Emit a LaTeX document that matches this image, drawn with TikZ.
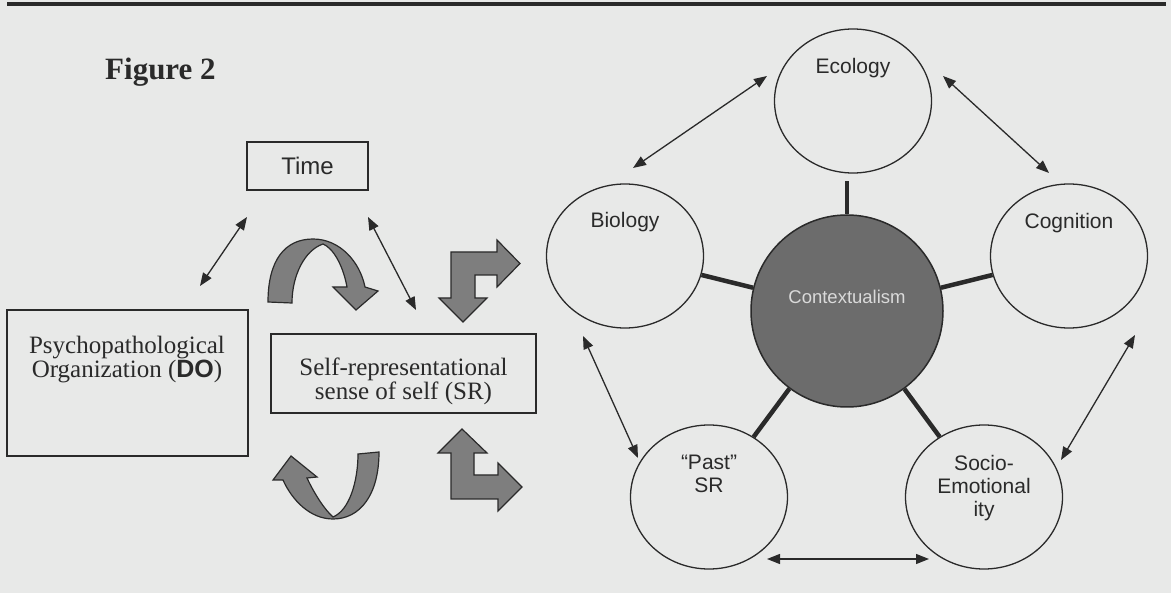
\documentclass[tikz,border=0pt]{standalone}
\usepackage{fontspec}
\setmainfont{Liberation Serif}
\setsansfont{Liberation Sans}
\usetikzlibrary{arrows.meta,shapes.geometric}
\definecolor{bgc}{HTML}{E8E9E8}
\definecolor{ink}{HTML}{2A2A2A}
\definecolor{blk}{HTML}{7E7E7E}
\definecolor{ctxc}{HTML}{6C6C6C}
\definecolor{ctxtc}{HTML}{DADADA}
\begin{document}
\begin{tikzpicture}[x=1pt,y=-1pt,
  box/.style={draw=ink,line width=1.2pt,rectangle,inner sep=0pt},
  circ/.style={draw=ink,line width=1.3pt,ellipse,minimum width=157pt,minimum height=144pt,inner sep=0pt},
  lbl/.style={font=\fontsize{21}{23}\selectfont\sffamily,text=ink,align=center,inner sep=0pt},
  serif/.style={font=\fontsize{25}{22}\selectfont,text=ink,align=center,inner sep=0pt},
  spoke/.style={draw=ink,line width=4.5pt},
  dbl/.style={draw=ink,line width=1.3pt,arrows={Triangle[length=13pt,width=10pt]-Triangle[length=13pt,width=10pt]}},
  blockarrow/.style={fill=blk,draw=ink,line width=1.2pt,line join=miter}
]
\fill[bgc] (0,0) rectangle (1171,593);
\useasboundingbox (0,0) rectangle (1171,593);
% top rule
\draw[ink,line width=4pt] (7,4.5) -- (1166,4.5);
% title
\node[anchor=base west,font=\fontsize{31}{31}\selectfont\bfseries,text=ink,inner sep=0pt] (fig) at (105,80) {Figure 2};
% left part
\node[box,minimum width=121pt,minimum height=48pt,font=\fontsize{24}{24}\selectfont\sffamily,text=ink] (time) at (307.5,166) {Time};
\node[box,minimum width=241pt,minimum height=146pt] (do) at (127.5,383) {};
\node[serif,anchor=north] (dotext) at (127,336) {Psychopathological\\Organization (\textsf{\bfseries DO})};
\node[box,minimum width=265pt,minimum height=79pt] (sr) at (403.5,373.5) {};
\node[serif,anchor=north] (srtext) at (403.5,358) {Self-representational\\sense of self (SR)};
% thin double arrows, left
\coordinate (f1) at (247,217); \coordinate (f2) at (200,286);
\coordinate (g1) at (368,217); \coordinate (g2) at (416,310);
\draw[dbl] (f1) -- (f2);
\draw[dbl] (g1) -- (g2);
% curved block arrow, top
\filldraw[blockarrow] (292,303) -- (268,302)
  .. controls (268,260) and (285,239) .. (313,239)
  .. controls (340,239) and (360,262) .. (365,287)
  -- (378,291) -- (356,310) -- (333,287) -- (347,287)
  .. controls (343,265) and (333,248) .. (323,244)
  .. controls (305,250) and (292,275) .. (292,303) -- cycle;
% curved block arrow, bottom
\filldraw[blockarrow] (358,454) -- (379,452)
  .. controls (379,495) and (360,519) .. (333,519)
  .. controls (310,519) and (292,500) .. (283,480)
  -- (273,480) -- (291,456) -- (317,477) -- (307,478)
  .. controls (315,495) and (325,510) .. (333,517)
  .. controls (350,510) and (358,480) .. (358,454) -- cycle;
% bent block arrow, top
\filldraw[blockarrow] (451,252) -- (497,252) -- (497,240) -- (520,263.5) -- (497,287)
  -- (497,275) -- (475,275) -- (475,298) -- (487,298) -- (463,322) -- (439,298)
  -- (451,298) -- cycle;
% bent block arrow, bottom
\filldraw[blockarrow] (462,429) -- (487,453) -- (474,453) -- (474,475) -- (498,475)
  -- (498,463) -- (522,487) -- (498,511) -- (498,499) -- (451,499) -- (451,453)
  -- (438,453) -- cycle;
% right part
\node[circ] (eco) at (853,101) {};
\node[circ] (bio) at (625,256) {};
\node[circ] (cog) at (1069,256) {};
\node[circ] (past) at (709,497) {};
\node[circ] (soc) at (984,497) {};
\node[circle,draw=ink,line width=1.5pt,fill=ctxc,minimum size=192pt,inner sep=0pt] (ctx) at (847,311) {};
\draw[spoke] (ctx) -- (bio);
\draw[spoke] (ctx) -- (cog);
\draw[spoke] (ctx) -- (past);
\draw[spoke] (ctx) -- (soc);
\draw[spoke,shorten >=7pt] (ctx.north) -- (ctx.north |- eco.south);
\node[lbl,anchor=base] (ecot) at (853,74) {Ecology};
\node[lbl,anchor=base] (biot) at (625,228) {Biology};
\node[lbl,anchor=base] (cogt) at (1069,229) {Cognition};
\node[lbl,anchor=base,font=\fontsize{18.5}{20}\selectfont\sffamily,text=ctxtc] (ctxt) at (847,304) {Contextualism};
\node[lbl,anchor=north] (pastt) at (709,455) {“Past”\\SR};
\node[lbl,anchor=north] (soct) at (984,455) {Socio-\\Emotional\\ity};
% thin double arrows, right
\coordinate (a1) at (633,168); \coordinate (a2) at (767,76);
\coordinate (b1) at (943,76); \coordinate (b2) at (1049,173);
\coordinate (c1) at (583,336); \coordinate (c2) at (638,458);
\coordinate (d1) at (1135,335); \coordinate (d2) at (1061,460);
\coordinate (e1) at (767,559); \coordinate (e2) at (929,559);
\draw[dbl] (a1) -- (a2);
\draw[dbl] (b1) -- (b2);
\draw[dbl] (c1) -- (c2);
\draw[dbl] (d1) -- (d2);
\draw[dbl] (e1) -- (e2);
\end{tikzpicture}
\end{document}
